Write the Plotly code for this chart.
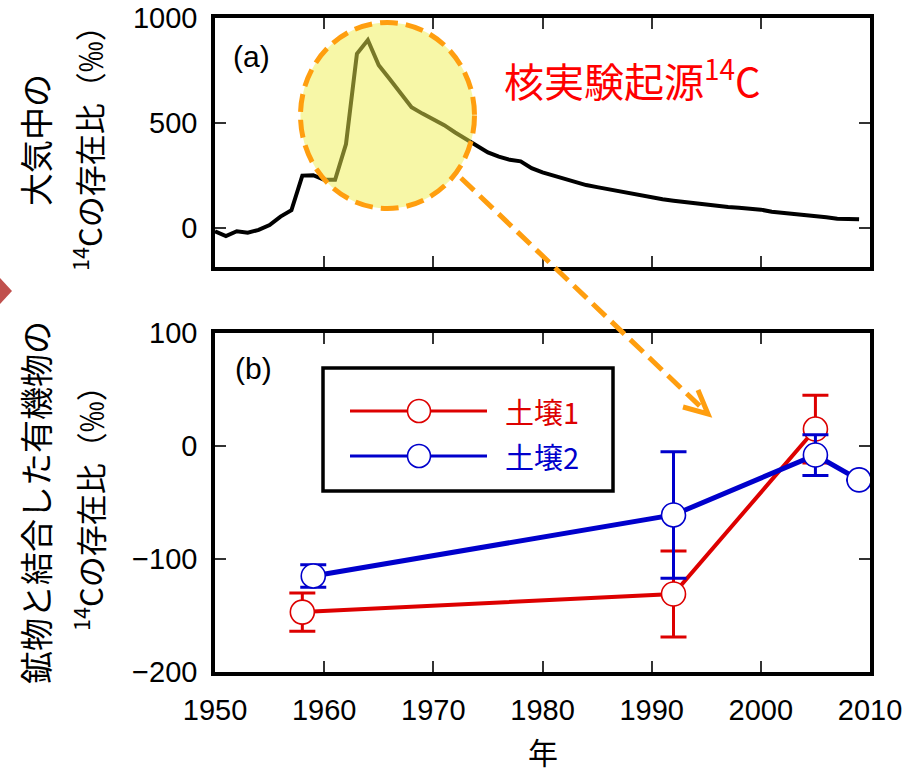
import plotly.graph_objects as go

W, H = 920, 773

# Atmospheric 14C ratio (‰), one value per year
atm_years = list(range(1950, 2010))
atm_d14c = [
    -15, -38, -15, -22, -8, 15, 55, 85, 250, 252,
    230, 230, 400, 830, 895, 775, 710, 640, 575, 545,
    520, 490, 455, 425, 395, 360, 340, 325, 318, 285,
    265, 250, 235, 218, 205, 195, 185, 175, 165, 155,
    145, 137, 130, 124, 117, 110, 105, 100, 97, 94,
    88, 78, 73, 68, 64, 60, 52, 45, 43, 42,
]

# Mineral-associated organic matter, soil 1
soil1_years = [1958, 1992, 2005]
soil1_d14c = [-147, -131, 15]
soil1_err = [17, 38, 30]

# Mineral-associated organic matter, soil 2
soil2_years = [1959, 1992, 2005, 2009]
soil2_d14c = [-115, -61, -8, -30]
soil2_err = [10, 56, 18, None]

x_ticks = [1950, 1960, 1970, 1980, 1990, 2000, 2010]
top_y_ticks = [0, 500, 1000]
bottom_y_ticks = [-200, -100, 0, 100]

RED = "#DD0000"
BLUE = "#0000CC"
ORANGE = "#FF9E0F"
JP = "Noto Sans CJK JP"
NUM = "Liberation Sans"


def px(x):
    return x / W


def py(y):
    return 1 - y / H


fig = go.Figure()

fig.add_trace(go.Scatter(
    x=atm_years, y=atm_d14c, mode="lines",
    line=dict(color="black", width=4),
    xaxis="x", yaxis="y", showlegend=False,
))

fig.add_trace(go.Scatter(
    x=soil1_years, y=soil1_d14c, mode="lines+markers",
    line=dict(color=RED, width=4),
    marker=dict(symbol="circle", size=24, color="white",
                line=dict(color=RED, width=1.6)),
    error_y=dict(type="data", array=soil1_err, color=RED,
                 thickness=3, width=13),
    xaxis="x2", yaxis="y2", showlegend=False,
))

fig.add_trace(go.Scatter(
    x=soil2_years, y=soil2_d14c, mode="lines+markers",
    line=dict(color=BLUE, width=5),
    marker=dict(symbol="circle", size=24, color="white",
                line=dict(color=BLUE, width=1.6)),
    error_y=dict(type="data", array=soil2_err, color=BLUE,
                 thickness=3, width=13),
    xaxis="x2", yaxis="y2", showlegend=False,
))

axis_common = dict(
    showline=True, linecolor="black", linewidth=3.5, mirror="ticks",
    ticks="inside", ticklen=11, tickwidth=1.5, tickcolor="#333",
    showgrid=False, zeroline=False, automargin=False,
    tickfont=dict(family=NUM, size=29, color="black"),
)

x_dom = [px(215), px(870)]

fig.update_layout(
    width=W, height=H,
    margin=dict(l=0, r=0, t=0, b=0, pad=0),
    paper_bgcolor="white", plot_bgcolor="white",
    xaxis=dict(domain=x_dom, anchor="y", range=[1950, 2010],
               tickvals=x_ticks, showticklabels=False, **axis_common),
    yaxis=dict(domain=[py(267), py(18)], anchor="x", range=[-185, 1000],
               tickvals=top_y_ticks, ticklabelstandoff=8, **axis_common),
    xaxis2=dict(domain=x_dom, anchor="y2", range=[1950, 2010],
                tickvals=x_ticks, ticklabelstandoff=9, **axis_common),
    yaxis2=dict(domain=[py(672), py(333)], anchor="x2", range=[-200, 100],
                tickvals=bottom_y_ticks, ticklabelstandoff=8,
                **axis_common),
)

shapes = []

# highlighted bomb-peak region
shapes.append(dict(
    type="circle", xref="paper", yref="paper",
    x0=px(300.5), x1=px(474.5), y0=py(208.5), y1=py(22.5),
    fillcolor="rgba(240,240,80,0.5)",
    line=dict(color=ORANGE, width=5, dash="18px,8px"),
    layer="above",
))

# dashed pointer from the peak to the soil data
shapes.append(dict(
    type="line", xref="paper", yref="paper",
    x0=px(461), y0=py(178), x1=px(705), y1=py(411),
    line=dict(color=ORANGE, width=5, dash="18px,8px"),
    layer="above",
))
shapes.append(dict(
    type="path", xref="paper", yref="paper",
    path=(f"M {px(698)},{py(390)} L {px(708)},{py(414)} "
          f"L {px(683)},{py(407)}"),
    line=dict(color=ORANGE, width=5),
    layer="above",
))

# slide marker at the left edge
shapes.append(dict(
    type="path", xref="paper", yref="paper",
    path=f"M 0,{py(278)} L {px(12)},{py(291)} L 0,{py(304)} Z",
    fillcolor="#C0504D", line=dict(width=0),
    layer="above",
))

# legend box for the soil series
shapes.append(dict(
    type="rect", xref="paper", yref="paper",
    x0=px(323), x1=px(613), y0=py(491), y1=py(368),
    fillcolor="white", line=dict(color="black", width=3.5),
    layer="above",
))
for yy, col in [(411, RED), (456, BLUE)]:
    shapes.append(dict(
        type="line", xref="paper", yref="paper",
        x0=px(350), x1=px(487), y0=py(yy), y1=py(yy),
        line=dict(color=col, width=3), layer="above",
    ))
    r = 11.5
    shapes.append(dict(
        type="circle", xref="paper", yref="paper",
        x0=px(419 - r), x1=px(419 + r), y0=py(yy + r), y1=py(yy - r),
        fillcolor="white", line=dict(color=col, width=1.6),
        layer="above",
    ))

fig.update_layout(shapes=shapes)

annotations = [
    dict(text="(a)", x=px(252), y=py(57),
         font=dict(family=NUM, size=30, color="black")),
    dict(text="(b)", x=px(253), y=py(368),
         font=dict(family=NUM, size=30, color="black")),
    dict(text="核実験起源<sup>14</sup>C", x=px(632), y=py(78),
         font=dict(family=JP, size=40, color="#FF0000")),
    dict(text="土壌1", x=px(503), y=py(411), xanchor="left",
         font=dict(family=JP, size=29, color=RED)),
    dict(text="土壌2", x=px(503), y=py(456), xanchor="left",
         font=dict(family=JP, size=29, color=BLUE)),
    dict(text="年", x=px(543), y=py(751),
         font=dict(family=JP, size=30, color="black")),
    dict(text="大気中の", x=px(35), y=py(140), textangle=-90,
         font=dict(family=JP, size=33, color="black")),
    dict(text="<sup>14</sup>Cの存在比（‰）", x=px(87), y=py(141),
         textangle=-90, font=dict(family=JP, size=31, color="black")),
    dict(text="鉱物と結合した有機物の", x=px(35), y=py(503),
         textangle=-90, font=dict(family=JP, size=33, color="black")),
    dict(text="<sup>14</sup>Cの存在比（‰）", x=px(88), y=py(501),
         textangle=-90, font=dict(family=JP, size=31, color="black")),
]
for a in annotations:
    a.update(xref="paper", yref="paper", showarrow=False)
    a.setdefault("xanchor", "center")
    a.setdefault("yanchor", "middle")
fig.update_layout(annotations=annotations)

fig.write_html("out.html")
